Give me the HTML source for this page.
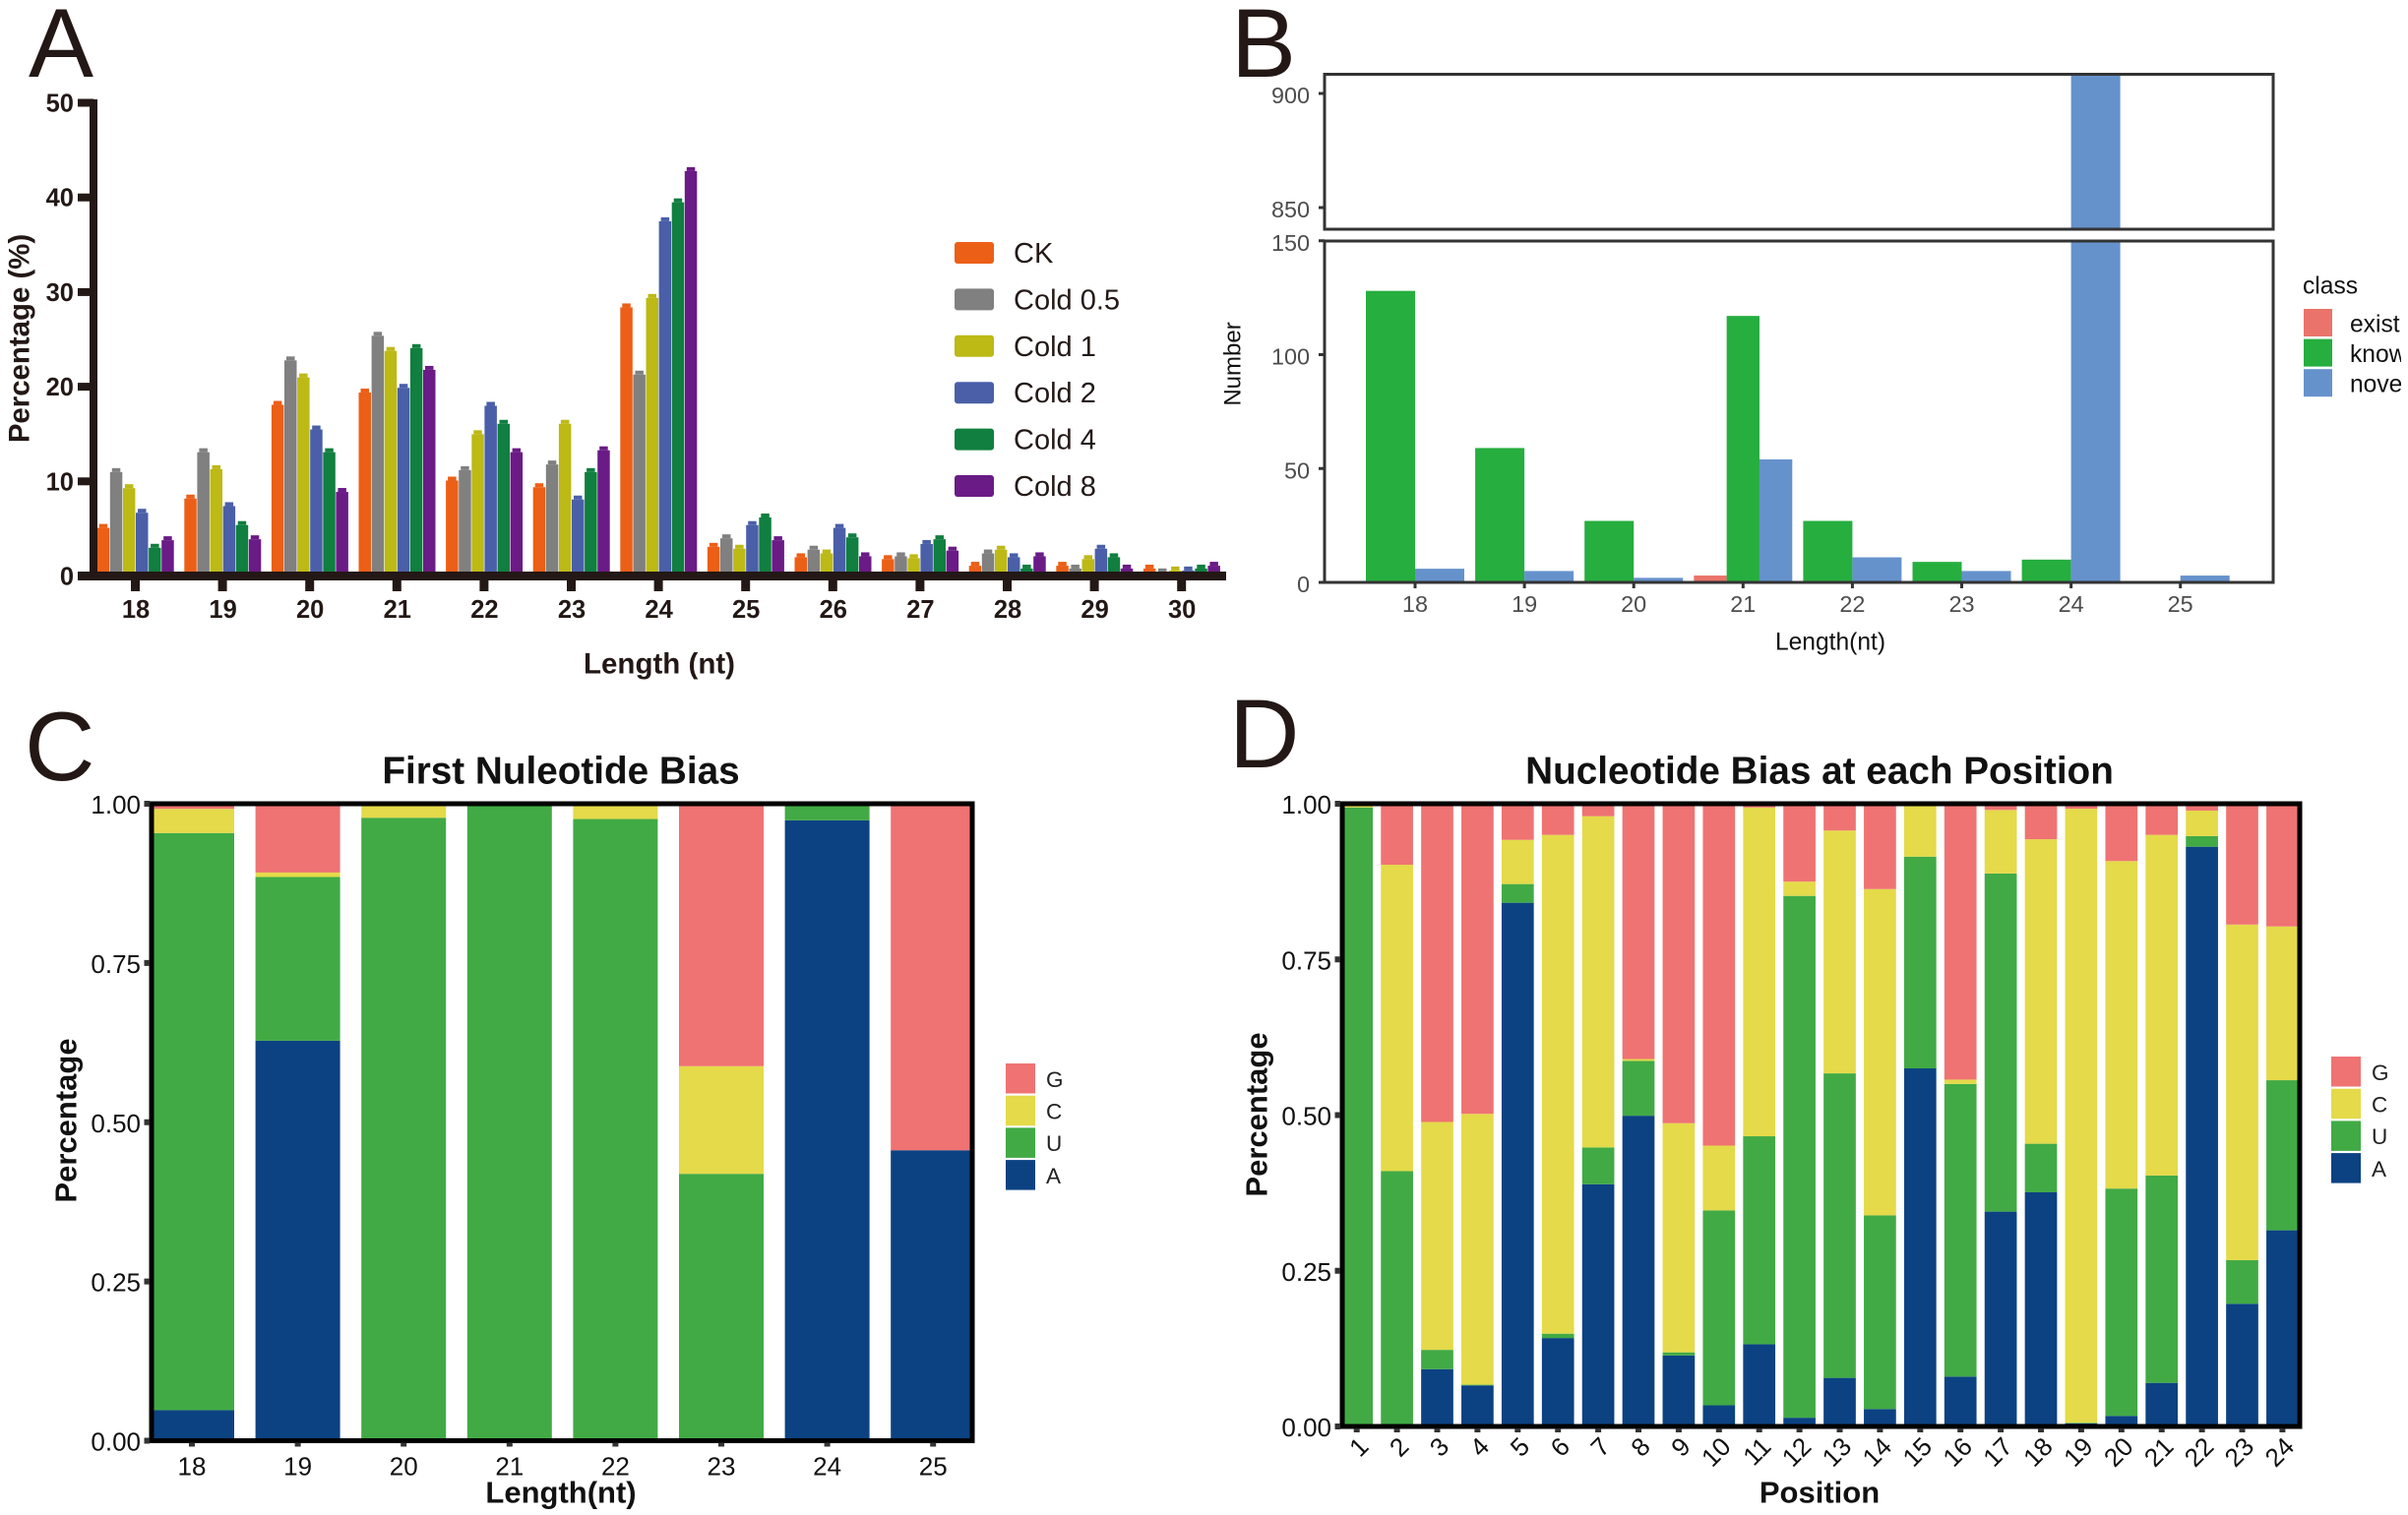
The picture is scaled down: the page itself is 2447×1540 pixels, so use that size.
<!DOCTYPE html>
<html lang="en">
<head>
<meta charset="utf-8">
<title>Small RNA length and nucleotide bias</title>
<style>
html,body{margin:0;padding:0;background:#fff;width:2447px;height:1540px;overflow:hidden}
svg{display:block}
text{font-family:"Liberation Sans",Arial,sans-serif}
</style>
</head>
<body>
<svg id="fig" xmlns="http://www.w3.org/2000/svg" width="2447" height="1540" viewBox="0 0 2447 1540">
<defs>
<clipPath id="clipBU"><rect x="1346" y="75" width="964" height="158"/></clipPath>
<clipPath id="clipBL"><rect x="1346" y="245" width="964" height="347"/></clipPath>
<clipPath id="clipC"><rect x="154" y="817" width="834" height="647"/></clipPath>
<clipPath id="clipD"><rect x="1364" y="817" width="973" height="633"/></clipPath>
<clipPath id="clipBLegend"><rect x="2380" y="300" width="60" height="110"/></clipPath>
</defs>
<text x="29" y="78" font-size="99" fill="#231815">A</text>
<text x="1251" y="78" font-size="99" fill="#231815">B</text>
<text x="25" y="793" font-size="99" fill="#231815">C</text>
<text x="1249" y="780" font-size="99" fill="#231815">D</text>

<text transform="translate(20,344) rotate(-90)" text-anchor="middle" dominant-baseline="central" font-size="29.4" font-weight="bold" fill="#231815">Percentage (%)</text>
<text x="670" y="675" text-anchor="middle" dominant-baseline="central" font-size="29.5" font-weight="bold" fill="#231815">Length (nt)</text>

<text transform="translate(1253,370) rotate(-90)" text-anchor="middle" dominant-baseline="central" font-size="24" fill="#111">Number</text>
<text x="1860" y="653" text-anchor="middle" dominant-baseline="central" font-size="24.6" fill="#111">Length(nt)</text>
<text x="2340" y="291" dominant-baseline="central" font-size="24.6" fill="#111">class</text>

<text x="570" y="784" text-anchor="middle" dominant-baseline="central" font-size="38.7" font-weight="bold" fill="#111">First Nuleotide Bias</text>
<text transform="translate(67,1139) rotate(-90)" text-anchor="middle" dominant-baseline="central" font-size="31" font-weight="bold" fill="#111">Percentage</text>
<text x="570" y="1517" text-anchor="middle" dominant-baseline="central" font-size="31" font-weight="bold" fill="#111">Length(nt)</text>

<text x="1849" y="784" text-anchor="middle" dominant-baseline="central" font-size="38.7" font-weight="bold" fill="#111">Nucleotide Bias at each Position</text>
<text transform="translate(1277,1133) rotate(-90)" text-anchor="middle" dominant-baseline="central" font-size="31" font-weight="bold" fill="#111">Percentage</text>
<text x="1849" y="1517" text-anchor="middle" dominant-baseline="central" font-size="31" font-weight="bold" fill="#111">Position</text>
</svg>
<script>
// ---------- Panel A data ----------
const aCategories = [18,19,20,21,22,23,24,25,26,27,28,29,30];
const aTicks = [0,10,20,30,40,50];
const aNames = ['CK','Cold 0.5','Cold 1','Cold 2','Cold 4','Cold 8'];
const aColors = ['#ec5f17','#808080','#bdb915','#4a5fa8','#107f3f','#6a1b86'];
const aCK     = [5.5,8.6,18.5,19.8,10.5,9.8,28.8,3.5,2.4,2.2,1.5,1.5,1.2];
const aCold05 = [11.4,13.5,23.2,25.8,11.6,12.2,21.7,4.4,3.2,2.5,2.8,1.2,0.8];
const aCold1  = [9.7,11.7,21.4,24.2,15.4,16.5,29.8,3.3,2.8,2.3,3.2,2.2,1.0];
const aCold2  = [7.1,7.8,15.9,20.3,18.4,8.5,37.9,5.8,5.5,3.8,2.4,3.3,1.0];
const aCold4  = [3.4,5.8,13.5,24.5,16.5,11.4,39.9,6.6,4.5,4.3,1.2,2.4,1.2];
const aCold8  = [4.2,4.3,9.3,22.2,13.5,13.7,43.2,4.2,2.5,3.1,2.5,1.2,1.5];
const aSeries = [aCK,aCold05,aCold1,aCold2,aCold4,aCold8];

// ---------- Panel B data ----------
const bCategories = [18,19,20,21,22,23,24,25];
const bTicksUpper = [850,900];
const bTicksLower = [0,50,100,150];
const bNames = ['existing','known','novel'];
const bColors = ['#ea736b','#26ae3f','#6692cc'];
const bExisting = [null,null,null,3,null,null,null,null];
const bKnown = [128,59,27,117,27,9,10,0.4];
const bNovel = [6,5,2,54,11,5,917,3];
const bSeries = [bExisting,bKnown,bNovel];

// ---------- Panels C, D data ----------
const nucNames = ['G','C','U','A'];
const nucColors = {G:'#ef7373',C:'#e4da4a',U:'#41aa45',A:'#0c4282'};
const fracTicks = ['0.00','0.25','0.50','0.75','1.00'];

const cCategories = [18,19,20,21,22,23,24,25];
const cA = [.048,.628,0,0,0,0,.974,.456];
const cU = [.906,.257,.978,1,.976,.419,.026,0];
const cC = [.038,.007,.022,0,.024,.169,0,0];
const cG = [.008,.108,0,0,0,.412,0,.544];

const dCategories = [1,2,3,4,5,6,7,8,9,10,11,12,13,14,15,16,17,18,19,20,21,22,23,24];
const dA = [0,0,.092,.066,.841,.142,.389,.499,.114,.034,.132,.014,.078,.028,.575,.08,.345,.376,.005,.017,.07,.931,.197,.315];
const dU = [.994,.41,.031,.001,.03,.007,.059,.088,.005,.313,.334,.838,.489,.311,.34,.47,.543,.078,.001,.365,.333,.017,.07,.241];
const dC = [.003,.492,.366,.435,.071,.801,.532,.003,.368,.104,.528,.023,.39,.524,.082,.007,.102,.489,.986,.526,.547,.041,.539,.247];
const dG = [.003,.098,.511,.498,.058,.05,.02,.41,.513,.549,.006,.125,.043,.137,.003,.443,.01,.057,.008,.092,.05,.011,.194,.197];

// ---------- helpers ----------
const NS = 'http://www.w3.org/2000/svg';
const fig = document.getElementById('fig');
function shape(tag, props, parent){
  const n = document.createElementNS(NS, tag);
  for (const k in props) n.setAttribute(k, props[k]);
  (parent || fig).appendChild(n);
  return n;
}
function box(x0,y0,x1,y1,fill,parent){
  return shape('rect',{x:Math.min(x0,x1),y:Math.min(y0,y1),width:Math.abs(x1-x0),height:Math.abs(y1-y0),fill:fill},parent);
}
function label(str,x,y,size,fill,anchor,weight,parent){
  const t = shape('text',{x:x,y:y,'font-size':size,fill:fill,'text-anchor':anchor,'dominant-baseline':'central','font-weight':weight||'normal'},parent);
  t.textContent = str;
  return t;
}
let el;

// ---------- Panel A ----------
const aInk = '#231815';
const aX = i => 138 + 88.6*i;
const aY = v => 585.5 - v*9.62;
aSeries.forEach((vals,s)=>{
  vals.forEach((v,i)=>{
    const left = aX(i) - 39.3 + 13.1*s;
    el = box(left,aY(v)+4,left+12.5,aY(0),aColors[s]);
    
    
    el = box(left+2,aY(v),left+10.5,aY(v)+4,aColors[s]);
    
    
  });
});
el = box(79,581,1246,590,aInk);


el = box(91,101,99,590,aInk);


aTicks.forEach(t=>{
  el = box(79,aY(t)-4,95,aY(t)+4,aInk);
  
  
  el = label(t,75,aY(t)+1,25.5,aInk,'end','bold');
  
  
});
aCategories.forEach((c,i)=>{
  el = box(aX(i)-5,590,aX(i)+4,601,aInk);
  
  
  el = label(c,aX(i),620,25.5,aInk,'middle','bold');
  
  
});
aNames.forEach((n,i)=>{
  const cy = 257 + 47.4*i;
  el = shape('rect',{x:970,y:cy-11,width:40,height:22,rx:3,fill:aColors[i]});
  
  
  el = label(n,1030,cy+1,29,aInk,'start');
  
  
});

// ---------- Panel B ----------
const bX = i => 1438 + 111.1*i;
const bYUpper = v => 95 + (900-v)*2.32;
const bYLower = v => 592 - v*2.315;
const gUpper = shape('g',{'clip-path':'url(#clipBU)'});


const gLower = shape('g',{'clip-path':'url(#clipBL)'});


bCategories.forEach((c,i)=>{
  const present = bSeries.filter(a=>a[i]!==null).length;
  const w = 100/present;
  let slot = 0;
  bSeries.forEach((a,s)=>{
    const v = a[i];
    if (v===null) return;
    const left = bX(i) - 50 + w*slot;
    slot++;
    el = box(left,Math.max(bYLower(v),245),left+w,bYLower(0),bColors[s],gLower);
    
    
    if (bYUpper(v) < 233) {
      el = box(left,Math.max(bYUpper(v),75),left+w,233,bColors[s],gUpper);
      
      
    }
  });
});
el = shape('rect',{x:1346,y:75.5,width:964,height:157.5,fill:'none',stroke:'#333',"stroke-width":3});


el = shape('rect',{x:1346,y:245,width:964,height:347,fill:'none',stroke:'#333',"stroke-width":3});


bTicksUpper.forEach(t=>{
  el = box(1340,bYUpper(t)-1.5,1346,bYUpper(t)+1.5,'#333');
  
  
  el = label(t,1331,bYUpper(t)+2,23.4,'#4d4d4d','end');
  
  
});
bTicksLower.forEach(t=>{
  el = box(1340,bYLower(t)-1.5,1346,bYLower(t)+1.5,'#333');
  
  
  el = label(t,1331,bYLower(t)+2,23.4,'#4d4d4d','end');
  
  
});
bCategories.forEach((c,i)=>{
  el = box(bX(i)-1.5,592,bX(i)+1.5,598,'#333');
  
  
  el = label(c,bX(i),614,23.4,'#4d4d4d','middle');
  
  
});
const gBLegend = shape('g',{'clip-path':'url(#clipBLegend)'});


bNames.forEach((n,i)=>{
  const top = 314 + 30.6*i;
  el = box(2341,top,2370,top+28,bColors[i]);
  
  
  el = label(n,2388,top+16,24.6,'#111','start','normal',gBLegend);
  
  
});

// ---------- Stacked panels ----------
function stacked(prefix,cats,A,U,C,G,xf,yf,barW,clip,frame){
  const g = shape('g',{'clip-path':'url(#'+clip+')'});
  
  
  const layers = [['A',A],['U',U],['C',C],['G',G]];
  cats.forEach((c,i)=>{
    let acc = 0;
    layers.forEach(l=>{
      const v = l[1][i];
      const r = box(xf(i)-barW/2,yf(acc+v),xf(i)+barW/2,yf(acc),nucColors[l[0]],g);
      
      
      acc += v;
    });
  });
  const f = shape('rect',{x:frame[0],y:frame[1],width:frame[2]-frame[0],height:frame[3]-frame[1],fill:'none',stroke:'#000','stroke-width':5});
  
  
  fracTicks.forEach(t=>{
    const y = yf(parseFloat(t));
    const k = box(frame[0]-7.5,y-3,frame[0]-2,y+3,'#333');
    
    
    const s = label(t,frame[0]-11,y+1,26,'#111','end');
    
    
  });
  cats.forEach((c,i)=>{
    const k = box(xf(i)-3,frame[3]+2,xf(i)+3,frame[3]+6,'#333');
    
    
  });
}
function nucLegend(prefix,x,top,pitch,h){
  nucNames.forEach((n,i)=>{
    const t = top + pitch*i;
    const r = box(x,t,x+30,t+h,nucColors[n]);
    
    
    const s = label(n,x+41,t+h/2+1,22.5,'#222','start');
    
    
  });
}
const cX = i => 195 + 107.6*i;
const cY = v => 1464.5 - v*647.5;
stacked('panel-c',cCategories,cA,cU,cC,cG,cX,cY,86,'clipC',[154,817,988,1464.5]);
cCategories.forEach((c,i)=>{
  el = label(c,cX(i),1490.5,26,'#111','middle');
  
  
});
nucLegend('panel-c',1022,1081,32.7,30.5);

const dX = i => 1378.7 + 40.9*i;
const dY = v => 1450 - v*633;
stacked('panel-d',dCategories,dA,dU,dC,dG,dX,dY,32.7,'clipD',[1364,817,2337,1450]);
dCategories.forEach((c,i)=>{
  el = shape('text',{x:0,y:0,transform:'translate('+(dX(i)+13.5)+',1472) rotate(-45)','font-size':26,fill:'#111','text-anchor':'end'});
  el.textContent = c;
  
  
});
nucLegend('panel-d',2369,1074,32.7,30.5);
</script>
</body>
</html>
